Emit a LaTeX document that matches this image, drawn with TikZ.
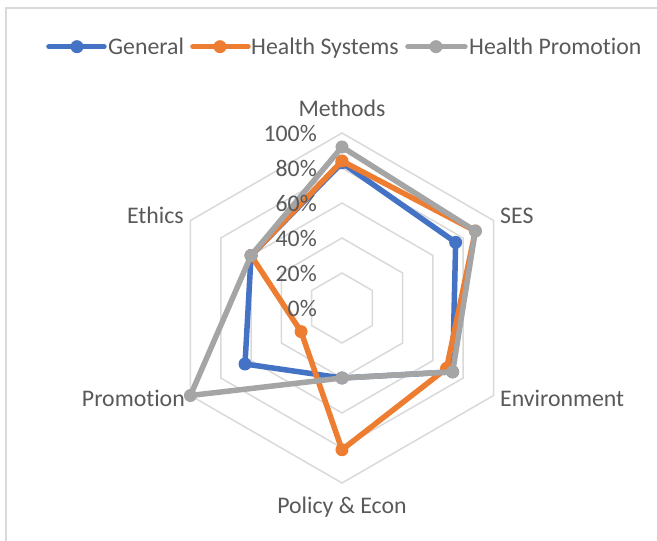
\documentclass[tikz,border=0pt]{standalone}
\usepackage{fontspec}
\setmainfont{Carlito}[Ligatures={NoCommon,NoContextual}]
\definecolor{cblue}{HTML}{4472C4}
\definecolor{corange}{HTML}{ED7D31}
\definecolor{cgray}{HTML}{A5A5A5}
\definecolor{cgrid}{HTML}{D9D9D9}
\definecolor{ctext}{HTML}{595959}
\newcommand\plotseries[8]{%
  \coordinate (#1-1) at (90:{#3*1.75});
  \coordinate (#1-2) at (30:{#4*1.75});
  \coordinate (#1-3) at (-30:{#5*1.75});
  \coordinate (#1-4) at (-90:{#6*1.75});
  \coordinate (#1-5) at (-150:{#7*1.75});
  \coordinate (#1-6) at (150:{#8*1.75});
  \draw[series,#2] (#1-1) -- (#1-2) -- (#1-3) -- (#1-4) -- (#1-5) -- (#1-6) -- cycle;
  \foreach \i in {1,...,6} \node[dot=#2] (m-#1-\i) at (#1-\i) {};
}
\begin{document}
\begin{tikzpicture}[x=1pt,y=1pt,
  lbl/.style={text=ctext, font=\fontsize{23.8}{28}\selectfont, inner sep=0pt},
  ring/.style={draw=cgrid, line width=1.5pt},
  series/.style={line width=5.5pt, line join=round, line cap=round},
  dot/.style={circle, fill=#1, minimum size=13pt, inner sep=0pt}
]
\useasboundingbox (-342,-233) rectangle (315,308);
% chart frame
\coordinate (fr1) at (315,300);
\coordinate (fr2) at (-336,300);
\coordinate (fr3) at (-336,-233);
\draw[cgrid, line width=1.5pt] (fr1) -- (fr2) -- (fr3);
% grid rings
\foreach \r in {35,70,105,140,175}
  \draw[ring] (90:\r) -- (30:\r) -- (-30:\r) -- (-90:\r) -- (-150:\r) -- (150:\r) -- cycle;
% category labels
\node[lbl, anchor=base] (cMethods) at (0,191.5) {Methods};
\node[lbl, anchor=base west] (cSES) at (158,84) {SES};
\node[lbl, anchor=base west] (cEnv) at (158,-98.7) {Environment};
\node[lbl, anchor=base] (cPol) at (0,-205) {Policy \& Econ};
\node[lbl, anchor=base east] (cPro) at (-157,-98.7) {Promotion};
\node[lbl, anchor=base east] (cEth) at (-158,84) {Ethics};
% series
\plotseries{gen}{cblue}{83}{75}{73}{40}{64}{60}
\plotseries{hs}{corange}{84}{88}{69}{81}{27}{60}
\plotseries{hp}{cgray}{92}{88}{73}{40}{100}{60}
% value axis labels (drawn above the series)
\foreach \v [count=\k from 0] in {0,20,40,60,80,100}
  \node[lbl, anchor=base east] (ax\k) at (-25,{\k*35-9}) {\v\%};
% legend
\coordinate (la1) at (-293,261.3);
\coordinate (lb1) at (-238,261.3);
\draw[series,cblue] (la1) -- (lb1);
\node[dot=cblue] (lm1) at (-265,261.3) {};
\node[lbl, anchor=base west] (lt1) at (-234,253.7) {General};
\coordinate (la2) at (-149,261.3);
\coordinate (lb2) at (-94,261.3);
\draw[series,corange] (la2) -- (lb2);
\node[dot=corange] (lm2) at (-122,261.3) {};
\node[lbl, anchor=base west] (lt2) at (-91,253.7) {Health Systems};
\coordinate (la3) at (66,261.3);
\coordinate (lb3) at (123,261.3);
\draw[series,cgray] (la3) -- (lb3);
\node[dot=cgray] (lm3) at (94,261.3) {};
\node[lbl, anchor=base west] (lt3) at (127,253.7) {Health Promotion};
\end{tikzpicture}
\end{document}
